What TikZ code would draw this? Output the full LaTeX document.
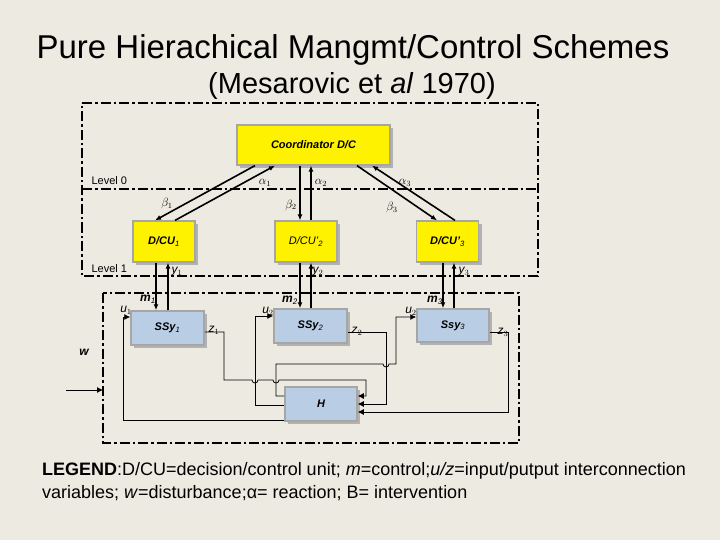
\documentclass[tikz,border=0pt]{standalone}
\usepackage{fontspec}
\setmainfont{Liberation Sans}
\usetikzlibrary{arrows.meta}
\definecolor{bg}{HTML}{EDEAE1}
\definecolor{ssy}{HTML}{B9CDE5}
\tikzset{
 dd/.style={line width=2.4pt,dash pattern=on 10pt off 3pt on 2.5pt off 3pt},
 ybox/.style={draw=gray!70,line width=1.2pt,fill=yellow,font=\bfseries\itshape\fontsize{11}{12}\selectfont,inner sep=0},
 bbox/.style={draw=gray!70,line width=1.5pt,fill=ssy,font=\bfseries\itshape\fontsize{11}{12}\selectfont,inner sep=0},
 sh/.style={fill=gray!60},
 ar/.style={line width=1.6pt,-{Latex[length=6pt,width=5pt]}},
 warr/.style={line width=0.8pt,-{Latex[length=6pt,width=6pt]}},
 lb/.style={font=\itshape\fontsize{12}{12}\selectfont,inner sep=0},
 lbb/.style={font=\bfseries\itshape\fontsize{12}{12}\selectfont,inner sep=0},
}
\begin{document}
\begin{tikzpicture}[x=1pt,y=-1pt]
\fill[bg] (0,0) rectangle (720,540);
\useasboundingbox (0,0) rectangle (720,540);
\node (t1) at (353,50) {\fontsize{33}{36}\selectfont Pure Hierachical Mangmt/Control Schemes};
\node (t2) at (352,86) {\fontsize{29}{32}\selectfont (Mesarovic et \textit{al} 1970)};
% frames
\draw[dd] (82,103) -- (538,103) -- (538,276) -- (82,276) -- cycle;
\draw[dd] (82,189) -- (538,189);
\draw[dd] (103,293) rectangle (519,443);
\node[anchor=west,font=\fontsize{11}{12}\selectfont] (l0) at (88,181) {Level 0};
\node[anchor=west,font=\fontsize{11}{12}\selectfont] (l1) at (88,269) {Level 1};
% boxes with shadows
\fill[sh] (240,128) rectangle (393,168);
\node[ybox,minimum width=153pt,minimum height=40pt] (c) at (313.5,145) {Coordinator D/C};
\foreach \n/\x/\t in {d1/164/{D/CU$_{\mathit 1}$},d2/306/{\mdseries D/CU'$_{\mathit 2}$},d3/447.5/{D/CU'$_{\mathit 3}$}}{
 \fill[sh] (\x-28,224) rectangle (\x+34,265);
 \node[ybox,minimum width=62pt,minimum height=41pt] (\n) at (\x,241.5) {\t};}
\fill[sh] (134,314) rectangle (207,348);
\node[bbox,minimum width=73pt,minimum height=34pt] (s1) at (167.5,328) {SSy$_{\mathit 1}$};
\fill[sh] (277,312) rectangle (350,346);
\node[bbox,minimum width=73pt,minimum height=34pt] (s2) at (310.5,326) {SSy$_{\mathit 2}$};
\fill[sh] (420,312) rectangle (492,345);
\node[bbox,minimum width=72pt,minimum height=33pt] (s3) at (453,325.5) {Ssy$_{\mathit 3}$};
\fill[sh] (288,390) rectangle (360,424);
\node[bbox,minimum width=72pt,minimum height=34pt] (h) at (321,404) {H};
% coordinator arrows
\draw[ar] ([xshift=-58.5pt]c.south) -- ([xshift=-9pt]d1.north);
\draw[ar] ([xshift=11pt]d1.north) -- ([xshift=-38.5pt]c.south);
\draw[ar] ([xshift=-13.5pt]c.south) -- ([xshift=-6pt]d2.north);
\draw[ar] ([xshift=5pt]d2.north) -- ([xshift=-2.5pt]c.south);
\draw[ar] ([xshift=43.5pt]c.south) -- ([xshift=-10.5pt]d3.north);
\draw[ar] ([xshift=7.5pt]d3.north) -- ([xshift=58.5pt]c.south);
\node[lb] (a1) at (265,183) {$\alpha_{1}$};
\node[lb] (a2) at (321,183) {$\alpha_{2}$};
\node[lb] (a3) at (405,183) {$\alpha_{3}$};
\node[lb] (b1) at (167,204) {$\beta_{1}$};
\node[lb] (b2) at (291,205) {$\beta_{2}$};
\node[lb] (b3) at (392,208) {$\beta_{3}$};
% m and y arrows
\draw[ar] ([xshift=-8pt]d1.south) -- ([xshift=-11.5pt]s1.north);
\draw[ar] ([xshift=0.5pt]s1.north) -- ([xshift=4pt]d1.south);
\draw[ar] ([xshift=-6pt]d2.south) -- ([xshift=-10.5pt]s2.north);
\draw[ar] ([xshift=0.5pt]s2.north) -- ([xshift=5pt]d2.south);
\draw[ar] ([xshift=-4.5pt]d3.south) -- ([xshift=-10pt]s3.north);
\draw[ar] ([xshift=1pt]s3.north) -- ([xshift=6.5pt]d3.south);
\node[lbb] (m1) at (148,299) {m$_{\mathit 1}$};
\node[lbb] (m2) at (290,300) {m$_{\mathit 2}$};
\node[lbb] (m3) at (435,300) {m$_{\mathit 3}$};
\node[lb] (y1) at (177,272) {y$_{1}$};
\node[lb] (y2) at (318,272) {y$_{2}$};
\node[lb] (y3) at (464,272) {y$_{3}$};
\node[lb] (u1) at (126,310) {u$_{1}$};
\node[lb] (u2) at (268,311) {u$_{2}$};
\node[lb] (u3) at (411,311) {u$_{2}$};
\node[lb] (z1) at (214,330) {z$_{1}$};
\node[lb] (z2) at (357,331) {z$_{2}$};
\node[lb] (z3) at (503,332) {z$_{3}$};
\node[lbb] (w) at (84,352) {w};
% wiring
\coordinate (win) at (66,390);
\coordinate (wend) at (103,390);
\draw[warr] (win) -- (wend);
\draw[warr] (s1.east |- 0,332) -- (224,332) -- (224,380) -- (252,380) arc (180:0:3) -- (273,380) arc (180:0:3) -- (366,380) -- (366,396) -- (h.east |- 0,396);
\draw[warr] (s2.east |- 0,332) -- (386,332) -- (386,404) -- (h.east |- 0,404);
\draw[warr] (s3.east |- 0,332) -- (508,332) -- (508,412) -- (h.east |- 0,412);
\draw[warr] (h.west |- 0,420) -- (123,420) -- (123,317) -- (s1.west |- 0,317);
\draw[warr] (h.west |- 0,405) -- (255,405) -- (255,316) -- (s2.west |- 0,316);
\draw[warr] (h.west |- 0,396) -- (276,396) -- (276,364) -- (383,364) arc (180:0:3) -- (396,364) -- (396,317) -- (s3.west |- 0,317);
% legend
\node[anchor=west,inner sep=0,font=\fontsize{18}{20}\selectfont] (lg1) at (42,471) {\textbf{LEGEND}:D/CU=decision/control unit; \textit{m}=control;\textit{u/z}=input/putput interconnection};
\node[anchor=west,inner sep=0,font=\fontsize{18}{20}\selectfont] (lg2) at (42,493) {variables; \textit{w}=disturbance;α= reaction; B= intervention};
\end{tikzpicture}
\end{document}
